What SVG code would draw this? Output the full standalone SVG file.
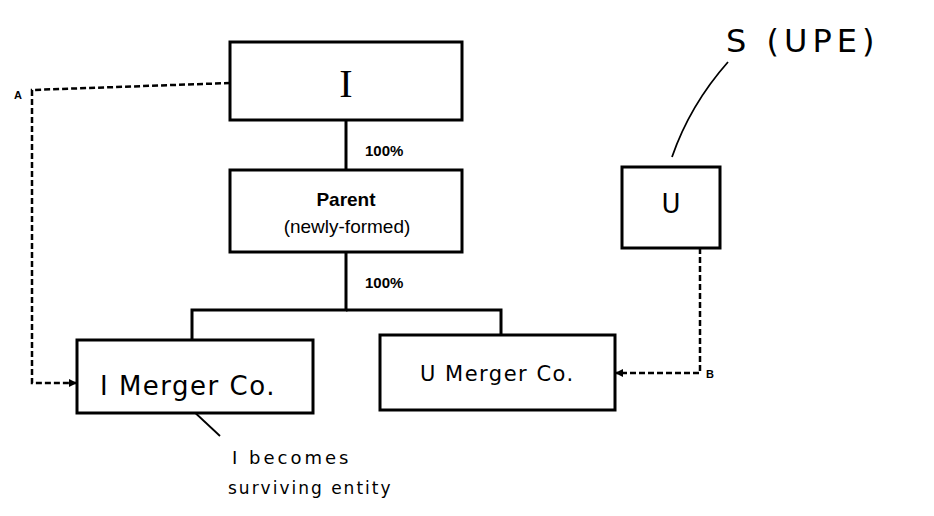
<svg xmlns="http://www.w3.org/2000/svg" width="934" height="516" viewBox="0 0 934 516">
<defs>
<style>
.box{fill:#fff;stroke:#000;stroke-width:3}
.ln{fill:none;stroke:#000;stroke-width:3}
.dash{fill:none;stroke:#000;stroke-width:2.5;stroke-dasharray:6 3}
.thin{fill:none;stroke:#000;stroke-width:1.8}
.lbl{font-family:"Liberation Sans",Arial,sans-serif;font-weight:bold;fill:#000}
.hand{font-family:"DejaVu Sans","Liberation Sans",sans-serif;fill:#000}
.serif{font-family:"Liberation Serif","Times New Roman",serif;fill:#000}
.small{font-family:"Liberation Sans",Arial,sans-serif;font-weight:bold;font-size:11px;fill:#000}
</style>
<marker id="arr" markerWidth="8" markerHeight="8" refX="7" refY="4" orient="auto" markerUnits="userSpaceOnUse">
<path d="M0,0 L8,4 L0,8 z" fill="#000"/>
</marker>
</defs>
<rect width="934" height="516" fill="#fff"/>
<g id="connectors">
<line class="ln" x1="346" y1="120" x2="346" y2="170"/>
<polyline class="ln" points="346,252 346,310 192,310 192,340"/>
<polyline class="ln" points="346,310 501,310 501,335"/>
<polyline class="dash" points="230,83 32,90 32,383 76,383" marker-end="url(#arr)"/>
<polyline class="dash" points="700,248 700,373 616,373" marker-end="url(#arr)"/>
<path class="thin" d="M728,62 Q690,105 672,157"/>
<line class="thin" x1="190" y1="408" x2="220" y2="436"/>
<text class="lbl" x="365" y="156" font-size="15">100%</text>
<text class="lbl" x="365" y="288" font-size="15">100%</text>
<text class="small" x="14" y="99">A</text>
<text class="small" x="706" y="378">B</text>
</g>
<g id="node-I">
<rect class="box" x="230" y="42" width="232" height="78"/>
<text class="serif" x="346" y="97" font-size="40" text-anchor="middle">I</text>
</g>
<g id="node-parent">
<rect class="box" x="230" y="170" width="232" height="82"/>
<text class="lbl" x="346" y="206" font-size="19" text-anchor="middle">Parent</text>
<text x="347" y="233" text-anchor="middle" font-family="Liberation Sans,Arial,sans-serif" font-size="19" fill="#000">(newly-formed)</text>
</g>
<g id="node-U">
<rect class="box" x="622" y="167" width="98" height="81"/>
<text class="hand" x="671" y="213" font-size="26" text-anchor="middle">U</text>
</g>
<g id="node-S">
<text class="hand" x="726" y="52" font-size="32" letter-spacing="5">S (UPE)</text>
</g>
<g id="node-I-merger">
<rect class="box" x="77" y="340" width="236" height="73"/>
<text class="hand" x="100" y="395" font-size="26" letter-spacing="1.5">I  Merger Co.</text>
</g>
<g id="node-U-merger">
<rect class="box" x="380" y="335" width="235" height="75"/>
<text class="hand" x="420" y="381" font-size="21" letter-spacing="1.5">U  Merger Co.</text>
</g>
<g id="note">
<text class="hand" x="232" y="464" font-size="18" letter-spacing="3">I  becomes</text>
<text class="hand" x="228" y="494" font-size="17" letter-spacing="2">surviving  entity</text>
</g>
</svg>
